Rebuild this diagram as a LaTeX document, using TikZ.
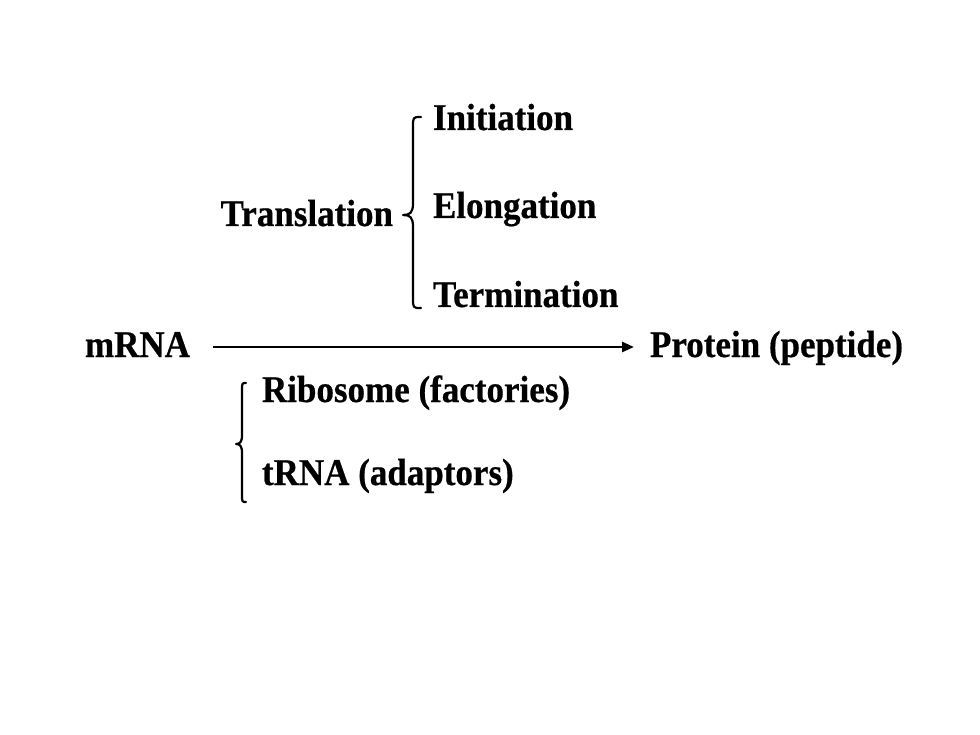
\documentclass[tikz,border=0pt]{standalone}
\usepackage{fontspec}
\setmainfont{Liberation Serif}[BoldFeatures={FakeBold=0.6}]
\usetikzlibrary{arrows.meta}
\newcommand{\tallbf}[1]{\scalebox{1}[1.08]{#1}}
\begin{document}
\begin{tikzpicture}[x=1pt,y=-1pt,
  lbl/.style={inner sep=0pt,outer sep=0pt,font=\fontsize{35}{40}\selectfont\bfseries},
  bracepath/.style={line width=2.2pt,line join=round,line cap=round},
  conn/.style={line width=2.6pt,-{Triangle[length=12pt,width=10pt]}}]
\useasboundingbox (0,0) rectangle (980,735);
\node[lbl,anchor=base west] (init) at (433,130) {\tallbf{Initiation}};
\node[lbl,anchor=base west] (elong) at (433,218) {\tallbf{Elongation}};
\node[lbl,anchor=base west] (term) at (433,307) {\tallbf{Termination}};
\node[lbl,anchor=base east] (trans) at (393,226) {\tallbf{Translation}};
\node[lbl,anchor=base west] (mrna) at (85,357) {\tallbf{mRNA}};
\node[lbl,anchor=base west] (prot) at (650,357) {\tallbf{Protein (peptide)}};
\node[lbl,anchor=base west] (ribo) at (262,402) {\tallbf{Ribosome (factories)}};
\node[lbl,anchor=base west] (trna) at (262,485) {\tallbf{tRNA (adaptors)}};
\coordinate (a1) at (213,347);
\coordinate (a2) at (634,347);
\draw[conn] (a1) -- (a2);
% upper brace
\draw[bracepath] (421,117) .. controls (413,117) .. (413,127) -- (413,203)
  .. controls (413,213) and (410,215) .. (403,215) .. controls (410,215) and (413,217) .. (413,227)
  -- (413,298) .. controls (413,308) .. (421,308);
% lower brace
\draw[bracepath] (246,383) .. controls (242,383) .. (242,391) -- (242,435)
  .. controls (242,442) and (240,444) .. (236,444) .. controls (240,444) and (242,446) .. (242,453)
  -- (242,494) .. controls (242,502) .. (246,502);
\end{tikzpicture}
\end{document}
